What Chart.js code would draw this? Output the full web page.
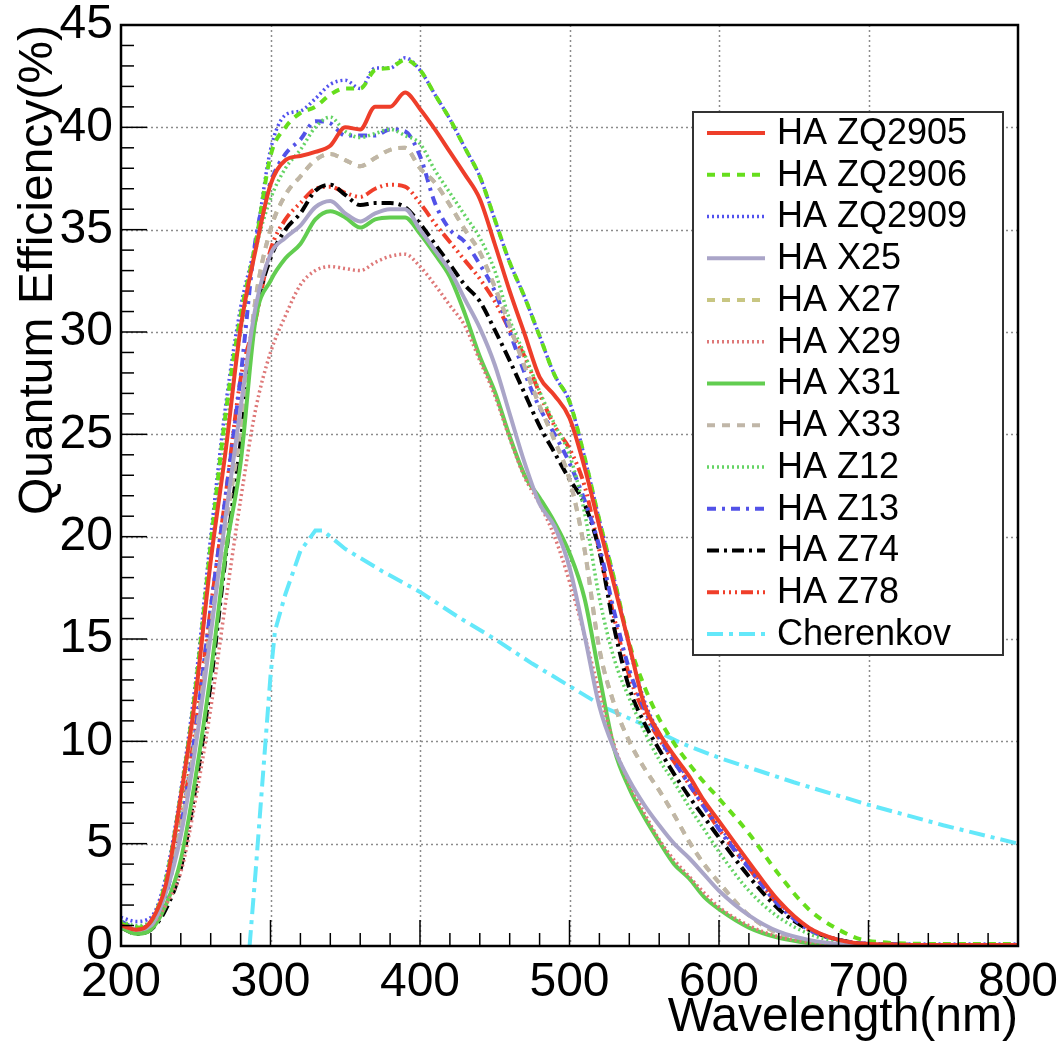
<!DOCTYPE html>
<html>
<head>
<meta charset="utf-8">
<script src="https://cdn.jsdelivr.net/npm/chart.js@4.4.1/dist/chart.umd.min.js"></script>
<style>
  html, body { margin: 0; padding: 0; background: #fff; }
  #wrap { width: 1064px; height: 1047px; }
</style>
</head>
<body>
<div id="wrap"><canvas id="qeChart" width="1064" height="1047"></canvas></div>
<script>
'use strict';

// --- datos ---
const wavelengths = [200, 210, 220, 230, 240, 250, 260, 270, 280, 290, 300, 310, 320, 330, 340, 350, 360, 370, 380, 390,
                     400, 410, 420, 430, 440, 450, 460, 470, 480, 490, 500, 510, 520, 530, 540, 550, 560, 570, 580, 590,
                     600, 620, 640, 660, 680, 700, 750, 800];

const qeZQ2905 = [1.0, 0.8, 1.2, 3.0, 7.3, 12.3, 18.8, 24.2, 30.2, 34.0, 37.2, 38.4, 38.6, 38.8, 39.1, 40.0, 39.9, 41.0, 41.0, 41.7,
                  40.9, 39.9, 38.8, 37.7, 36.5, 34.3, 32.0, 29.9, 27.8, 26.9, 25.8, 23.4, 20.5, 17.6, 14.7, 11.8, 10.4, 9.3, 8.3, 7.1,
                  6.1, 4.1, 2.2, 0.9, 0.3, 0.1, 0.05, 0.05];
const qeZQ2906 = [1.1, 0.9, 1.2, 3.2, 7.4, 12.7, 19.6, 26.0, 30.8, 34.3, 38.6, 40.0, 40.7, 41.0, 41.6, 41.9, 41.9, 42.8, 42.9, 43.3,
                  42.8, 41.6, 40.4, 39.0, 37.6, 35.5, 33.4, 31.7, 29.8, 27.9, 26.6, 23.9, 20.8, 17.9, 14.8, 12.7, 11.1, 9.9, 8.9, 8.0,
                  7.2, 5.5, 3.5, 1.8, 0.8, 0.25, 0.1, 0.1];
const qeZQ2909 = [1.4, 1.2, 1.4, 3.4, 7.6, 13.0, 20.0, 26.4, 31.2, 34.4, 38.9, 40.6, 40.8, 41.4, 42.1, 42.3, 41.9, 42.9, 42.9, 43.4,
                  42.8, 41.6, 40.4, 39.0, 37.6, 35.5, 33.4, 31.7, 29.8, 27.9, 26.6, 23.9, 20.8, 17.9, 14.6, 12.0, 10.4, 9.2, 8.1, 7.0,
                  5.9, 3.9, 2.1, 0.9, 0.3, 0.12, 0.1, 0.1];
const qeX25 = [1.0, 0.8, 1.0, 2.6, 5.4, 9.8, 15.2, 21.0, 26.3, 31.2, 33.8, 34.6, 35.2, 36.1, 36.4, 35.8, 35.4, 35.8, 36.0, 36.0,
               35.0, 34.0, 33.0, 31.6, 30.2, 28.4, 26.0, 23.6, 21.6, 20.5, 18.5, 15.2, 11.7, 9.6, 8.1, 6.9, 5.9, 5.0, 4.3, 3.5,
               2.7, 1.5, 0.7, 0.3, 0.1, 0.05, null, null];
const qeX27 = [1.0, 0.8, 1.0, 2.8, 5.8, 10.2, 15.6, 20.6, 25.2, 31.6, 35.0, 36.7, 37.6, 38.4, 38.7, 38.4, 38.1, 38.5, 38.9, 39.0,
               38.0, 37.3, 36.2, 35.0, 33.9, 32.2, 30.3, 28.3, 26.4, 24.7, 22.8, 19.4, 14.5, 11.8, 10.0, 8.7, 7.6, 6.4, 5.1, 4.0,
               3.1, 1.5, 0.6, 0.2, 0.1, 0.05, 0.05, 0.05];
const qeX29 = [1.1, 0.8, 1.0, 2.0, 3.6, 7.2, 11.6, 16.8, 21.8, 26.2, 29.0, 30.8, 32.3, 33.0, 33.2, 33.1, 33.0, 33.4, 33.7, 33.8,
               33.2, 32.3, 31.3, 30.3, 28.6, 26.9, 24.8, 22.9, 21.6, 20.0, 17.8, 15.2, 12.4, 9.8, 7.9, 6.5, 5.2, 4.2, 3.4, 2.6,
               1.9, 1.0, 0.45, 0.2, 0.1, 0.05, 0.05, 0.05];
const qeX31 = [0.9, 0.6, 0.8, 2.0, 4.2, 8.3, 13.3, 19.2, 23.6, 30.6, 32.5, 33.6, 34.3, 35.5, 35.9, 35.6, 35.1, 35.5, 35.6, 35.6,
               34.8, 33.8, 32.7, 30.9, 28.8, 27.1, 24.9, 23.0, 21.9, 20.7, 19.2, 17.0, 13.2, 9.6, 7.7, 6.3, 5.1, 4.0, 3.3, 2.4,
               1.8, 0.9, 0.4, 0.15, 0.03, null, null, null];
const qeX33 = [1.0, 0.8, 1.0, 2.8, 5.8, 10.2, 15.6, 20.6, 25.2, 31.6, 35.0, 36.7, 37.6, 38.4, 38.7, 38.4, 38.1, 38.5, 38.9, 39.0,
               38.0, 37.3, 36.2, 35.0, 33.9, 32.2, 30.3, 28.3, 26.4, 24.7, 22.8, 19.4, 14.5, 11.8, 10.0, 8.7, 7.6, 6.4, 5.1, 4.0,
               3.1, 1.5, 0.6, 0.2, 0.1, 0.05, 0.05, 0.05];
const qeZ12 = [1.2, 1.0, 1.2, 3.0, 7.0, 12.3, 19.0, 25.0, 30.0, 34.0, 36.5, 38.0, 38.9, 40.0, 40.5, 39.8, 39.5, 39.7, 39.9, 39.6,
               39.2, 37.9, 36.8, 35.7, 34.6, 33.0, 30.6, 28.9, 27.1, 25.5, 24.0, 21.2, 17.0, 14.0, 12.1, 10.5, 9.1, 8.0, 6.8, 5.7,
               4.6, 2.7, 1.4, 0.6, 0.2, 0.08, 0.05, 0.05];
const qeZ13 = [1.2, 0.9, 1.0, 2.5, 5.8, 10.6, 16.5, 22.0, 27.8, 34.5, 37.3, 38.7, 39.4, 40.3, 40.2, 39.6, 39.6, 39.6, 39.9, 39.8,
               38.6, 36.3, 35.0, 34.4, 33.3, 32.0, 30.0, 28.0, 26.3, 25.0, 23.6, 21.8, 19.5, 16.3, 13.5, 11.6, 10.2, 9.0, 7.9, 6.8,
               5.7, 3.8, 2.0, 0.8, 0.3, 0.1, 0.05, 0.05];
const qeZ74 = [0.9, 0.6, 0.8, 1.8, 3.8, 7.8, 12.8, 19.0, 24.6, 30.8, 33.6, 35.0, 35.8, 36.9, 37.2, 36.7, 36.2, 36.3, 36.3, 36.1,
               35.3, 34.3, 33.3, 32.3, 31.5, 30.1, 28.6, 27.0, 25.4, 24.1, 22.8, 21.6, 19.3, 15.5, 12.6, 10.9, 9.6, 8.4, 7.3, 6.3,
               5.3, 3.4, 1.8, 0.8, 0.3, 0.1, 0.05, 0.05];
const qeZ78 = [1.1, 0.8, 1.1, 2.8, 6.0, 10.8, 16.5, 22.0, 27.7, 30.6, 34.0, 35.5, 36.3, 37.0, 37.1, 36.8, 36.6, 37.0, 37.2, 37.1,
               36.3, 35.3, 34.4, 33.5, 32.6, 31.5, 30.1, 28.8, 27.0, 25.4, 24.3, 22.5, 19.3, 16.0, 13.2, 11.4, 10.1, 9.0, 7.9, 6.8,
               5.7, 3.8, 2.0, 0.8, 0.3, 0.1, 0.05, 0.05];

const cherenkovWl = [286, 290, 295, 300, 303, 310, 320, 330, 335, 340, 350, 375, 400, 425, 450, 475, 500, 525, 550, 575,
                     600, 650, 700, 750, 800];
const cherenkovQe = [0, 3.6, 8.4, 13.2, 15.4, 17.2, 19.3, 20.3, 20.3, 20.0, 19.4, 18.3, 17.3, 16.1, 15.0, 13.8, 12.7, 11.6, 10.8, 9.9,
                     9.2, 8.0, 6.9, 5.9, 5.0];

const xTicks = [200, 300, 400, 500, 600, 700, 800];
const yTicks = [0, 5, 10, 15, 20, 25, 30, 35, 40, 45];

// --- estilos de cada curva (al estilo ROOT) ---
const FONT = '"Liberation Sans", Arial, Helvetica, sans-serif';

const series = [
    { label: 'HA ZQ2905', x: wavelengths, y: qeZQ2905, color: 'rgb(238,62,42)', width: 4, dash: [] },
    { label: 'HA ZQ2906', x: wavelengths, y: qeZQ2906, color: 'rgb(102,222,28)', width: 4, dash: [8, 7] },
    { label: 'HA ZQ2909', x: wavelengths, y: qeZQ2909, color: 'rgb(82,82,238)', width: 3.5, dash: [2, 3] },
    { label: 'HA X25', x: wavelengths, y: qeX25, color: 'rgb(170,165,200)', width: 4, dash: [] },
    { label: 'HA X27', x: wavelengths, y: qeX27, color: 'rgb(200,198,130)', width: 4, dash: [8, 7], under: true },
    { label: 'HA X29', x: wavelengths, y: qeX29, color: 'rgb(222,120,120)', width: 3.5, dash: [2, 3] },
    { label: 'HA X31', x: wavelengths, y: qeX31, color: 'rgb(98,205,80)', width: 4, dash: [] },
    { label: 'HA X33', x: wavelengths, y: qeX33, color: 'rgb(192,182,168)', width: 4, dash: [8, 7] },
    { label: 'HA Z12', x: wavelengths, y: qeZ12, color: 'rgb(100,212,100)', width: 3.5, dash: [2, 3] },
    { label: 'HA Z13', x: wavelengths, y: qeZ13, color: 'rgb(82,82,232)', width: 4, dash: [9, 6, 3, 6] },
    { label: 'HA Z74', x: wavelengths, y: qeZ74, color: 'rgb(0,0,0)', width: 4, dash: [12, 5, 3, 5] },
    { label: 'HA Z78', x: wavelengths, y: qeZ78, color: 'rgb(240,62,42)', width: 4, dash: [12, 4, 2, 4, 2, 4, 2, 4] },
    { label: 'Cherenkov', x: cherenkovWl, y: cherenkovQe, color: 'rgb(100,232,250)', width: 4, dash: [16, 6, 4, 6], linear: true }
];

function puntos(xs, ys) {
    return xs.map((x, i) => ({ x: x, y: ys[i] })).filter(p => p.y !== null);
}

// --- marco, rejilla, marcas y leyenda al estilo ROOT ---
const marcoRoot = {
    id: 'marcoRoot',
    beforeDatasetsDraw(chart) {
        const { ctx, chartArea: a, scales: { x, y } } = chart;
        ctx.save();
        ctx.strokeStyle = 'rgb(140,140,140)';
        ctx.lineWidth = 1.5;
        ctx.setLineDash([2, 3]);
        xTicks.slice(1, -1).forEach(t => {
            const px = Math.round(x.getPixelForValue(t)) + 0.5;
            ctx.beginPath(); ctx.moveTo(px, a.top); ctx.lineTo(px, a.bottom); ctx.stroke();
        });
        yTicks.slice(1, -1).forEach(t => {
            const py = Math.round(y.getPixelForValue(t)) + 0.5;
            ctx.beginPath(); ctx.moveTo(a.left, py); ctx.lineTo(a.right, py); ctx.stroke();
        });
        ctx.restore();
    },
    afterDatasetsDraw(chart) {
        const { ctx, chartArea: a, scales: { x, y } } = chart;
        ctx.save();
        ctx.strokeStyle = '#000';
        ctx.lineWidth = 1.5;
        ctx.setLineDash([]);
        // marcas menores y mayores hacia dentro
        for (let v = 200; v <= 800; v += 20) {
            const px = x.getPixelForValue(v);
            const len = (v % 100 === 0) ? 26 : 13;
            ctx.beginPath(); ctx.moveTo(px, a.bottom); ctx.lineTo(px, a.bottom - len); ctx.stroke();
        }
        for (let v = 0; v <= 45; v += 1) {
            const py = y.getPixelForValue(v);
            const len = (v % 5 === 0) ? 26 : 13;
            ctx.beginPath(); ctx.moveTo(a.left, py); ctx.lineTo(a.left + len, py); ctx.stroke();
        }
        ctx.lineWidth = 2.5;
        ctx.strokeRect(a.left, a.top, a.right - a.left, a.bottom - a.top);

        // leyenda
        const box = { left: 693, top: 112, right: 1003, bottom: 655 };
        const fila = (box.bottom - box.top) / series.length;
        ctx.fillStyle = '#fff';
        ctx.fillRect(box.left, box.top, box.right - box.left, box.bottom - box.top);
        ctx.strokeStyle = '#333';
        ctx.lineWidth = 2;
        ctx.strokeRect(box.left, box.top, box.right - box.left, box.bottom - box.top);
        ctx.font = '36px ' + FONT;
        ctx.textBaseline = 'middle';
        series.forEach((s, i) => {
            const cy = box.top + fila * (i + 0.5);
            ctx.strokeStyle = s.color;
            ctx.lineWidth = s.width;
            ctx.setLineDash(s.dash);
            ctx.beginPath(); ctx.moveTo(707, cy); ctx.lineTo(765, cy); ctx.stroke();
            ctx.setLineDash([]);
            ctx.fillStyle = '#000';
            ctx.fillText(s.label, 777, cy + 1);
        });
        ctx.restore();
    }
};

const fuenteEje = { family: FONT, size: 48 };

new Chart(document.getElementById('qeChart').getContext('2d'), {
    type: 'line',
    data: {
        datasets: series.map(s => ({
            label: s.label,
            data: puntos(s.x, s.y),
            borderColor: s.color,
            backgroundColor: s.color,
            borderWidth: s.width,
            borderDash: s.dash,
            pointRadius: 0,
            fill: false,
            tension: 0,
            order: s.under ? 1 : 0,
            cubicInterpolationMode: s.linear ? 'default' : 'monotone'
        }))
    },
    options: {
        responsive: false,
        animation: false,
        devicePixelRatio: 1,
        layout: { padding: { left: 0, right: 46, top: 25, bottom: 0 } },
        plugins: { legend: { display: false }, tooltip: { enabled: false } },
        scales: {
            x: {
                type: 'linear', min: 200, max: 800,
                afterBuildTicks: s => { s.ticks = xTicks.map(v => ({ value: v })); },
                afterFit: s => { s.height = 101; s.paddingLeft = 0; s.paddingRight = 0; },
                ticks: { font: fuenteEje, color: '#000', padding: 8, maxRotation: 0, autoSkip: false },
                grid: { display: false, drawTicks: false },
                border: { display: false },
                title: { display: true, text: 'Wavelength(nm)', align: 'end', color: '#000', font: fuenteEje, padding: { top: 0, bottom: 0 } }
            },
            y: {
                type: 'linear', min: 0, max: 45,
                afterBuildTicks: s => { s.ticks = yTicks.map(v => ({ value: v })); },
                afterFit: s => { s.width = 121; s.paddingTop = 0; s.paddingBottom = 0; },
                ticks: { font: fuenteEje, color: '#000', padding: 8, autoSkip: false },
                grid: { display: false, drawTicks: false },
                border: { display: false },
                title: { display: true, text: 'Quantum Efficiency(%)', align: 'end', color: '#000', font: fuenteEje, padding: { top: 10, bottom: 0 } }
            }
        }
    },
    plugins: [marcoRoot]
});
</script>
</body>
</html>
